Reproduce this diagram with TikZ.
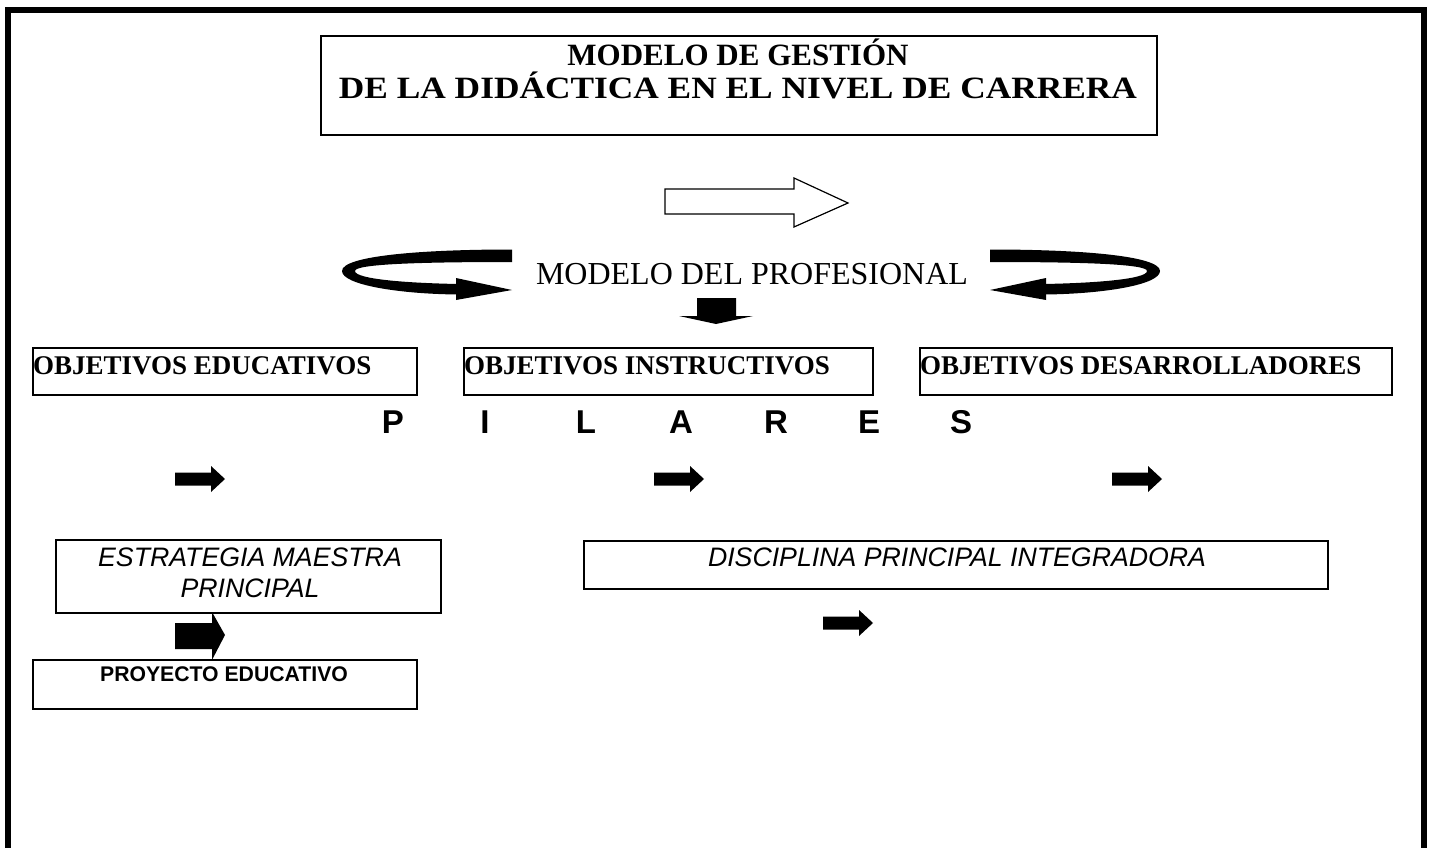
\documentclass[tikz,border=0pt]{standalone}
\usepackage{fontspec}
\setmainfont{Liberation Serif}
\setsansfont{Liberation Sans}
\tikzset{
  box/.style={draw, line width=1.6pt, inner sep=0pt, anchor=north west},
  titlefont/.style={font=\fontsize{31}{36}\selectfont\bfseries},
  objfont/.style={font=\fontsize{27}{32}\selectfont\bfseries, inner sep=0pt, anchor=base west},
  pilfont/.style={font=\fontsize{33}{38}\sffamily\bfseries\selectfont, inner sep=0pt, anchor=base},
  itfont/.style={font=\fontsize{26.7}{30}\sffamily\itshape\selectfont, inner sep=0pt, anchor=base},
  smallarrow/.pic={\fill (0,-6.5) -- (36,-6.5) -- (36,-13) -- (50,0) -- (36,13) -- (36,6.5) -- (0,6.5) -- cycle;}
}
\begin{document}
\begin{tikzpicture}[x=1pt,y=-1pt]
\useasboundingbox (0,0) rectangle (1432,848);
% outer frame (open at bottom)
\draw[line width=6pt, line join=miter] (8,850) -- (8,10) -- (1424,10) -- (1424,850);

% title
\node[box, minimum width=836pt, minimum height=99pt] (titlebox) at (320,35) {};
\node[titlefont, inner sep=0pt, anchor=base] (t1) at (738,66) {MODELO DE GESTIÓN};
\node[titlefont, inner sep=0pt, anchor=base] (t2) at (738,99) {\scalebox{1.14}[1]{DE LA DIDÁCTICA EN EL NIVEL DE CARRERA}};

% outline arrow
\draw[line width=1.2pt, line join=miter, fill=white] (665,189) -- (794,189) -- (794,178) -- (848,203) -- (794,227) -- (794,214) -- (665,214) -- cycle;

% curved arrows
\fill (512,249.5) .. controls (420,249.5) and (342,256) .. (342,271)
      .. controls (342,285) and (400,294) .. (458,294.5) -- (458,284)
      .. controls (405,283) and (355,279) .. (355,271)
      .. controls (355,264) and (420,262) .. (512,262) -- cycle;
\fill (456,278) -- (512,290) -- (456,300) -- cycle;
\fill (990,249.5) .. controls (1082,249.5) and (1160,256) .. (1160,271)
      .. controls (1160,285) and (1102,294) .. (1044,294.5) -- (1044,284)
      .. controls (1097,283) and (1147,279) .. (1147,271)
      .. controls (1147,264) and (1082,262) .. (990,262) -- cycle;
\fill (1046,278) -- (990,290) -- (1046,300) -- cycle;

\node[font=\fontsize{32}{38}\selectfont, inner sep=0pt, anchor=base] (mp) at (752,284) {MODELO DEL PROFESIONAL};

% down arrow
\fill (697,298) -- (736,298) -- (736,316) -- (753,316) -- (716,324) -- (679,316) -- (697,316) -- cycle;

% objectives
\node[box, minimum width=384pt, minimum height=47pt] (oe) at (32,347) {};
\node[box, minimum width=409pt, minimum height=47pt] (oi) at (463,347) {};
\node[box, minimum width=472pt, minimum height=47pt] (od) at (919,347) {};
\node[objfont] (oet) at (33,374) {OBJETIVOS EDUCATIVOS};
\node[objfont] (oit) at (464,374) {OBJETIVOS INSTRUCTIVOS};
\node[objfont] (odt) at (920,374) {OBJETIVOS DESARROLLADORES};

% PILARES
\node[pilfont] (p1) at (393,433) {P};
\node[pilfont] (p2) at (485,433) {I};
\node[pilfont] (p3) at (586,433) {L};
\node[pilfont] (p4) at (681,433) {A};
\node[pilfont] (p5) at (776,433) {R};
\node[pilfont] (p6) at (869,433) {E};
\node[pilfont] (p7) at (961,433) {S};

% small arrows
\pic at (175,479) {smallarrow};
\pic at (654,479) {smallarrow};
\pic at (1112,479) {smallarrow};
\pic at (823,623) {smallarrow};

% estrategia
\node[box, minimum width=385pt, minimum height=73pt] (em) at (55,539) {};
\node[itfont] (em1) at (250,566) {ESTRATEGIA MAESTRA};
\node[itfont] (em2) at (250,597) {PRINCIPAL};

% big arrow
\fill (175,623) -- (212,623) -- (212,612) -- (225,635) -- (212,660) -- (212,649) -- (175,649) -- cycle;

% proyecto
\node[box, minimum width=384pt, minimum height=49pt] (pe) at (32,659) {};
\node[font=\fontsize{21.2}{25}\sffamily\bfseries\selectfont, inner sep=0pt, anchor=base] (pet) at (224,681) {PROYECTO EDUCATIVO};

% disciplina
\node[box, minimum width=744pt, minimum height=48pt] (dpi) at (583,540) {};
\node[itfont] (dpit) at (957,566) {DISCIPLINA PRINCIPAL INTEGRADORA};
\end{tikzpicture}
\end{document}
